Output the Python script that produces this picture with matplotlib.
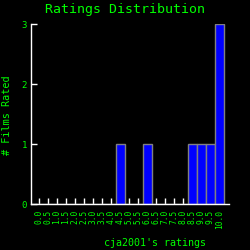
import numpy as np
import matplotlib.pyplot as plt

ratings = ['0.0', '0.5', '1.0', '1.5', '2.0', '2.5', '3.0', '3.5', '4.0', '4.5', '5.0',
           '5.5', '6.0', '6.5', '7.0', '7.5', '8.0', '8.5', '9.0', '9.5', '10.0']
counts = [0, 0, 0, 0, 0, 0, 0, 0, 0, 1, 0, 0, 1, 0, 0, 0, 0, 1, 1, 1, 3]

green = '#00ff00'
font = 'DejaVu Sans Mono'

fig = plt.figure(figsize=(2.5, 2.5), dpi=100, facecolor='black')
ax = fig.add_axes([0.124, 0.184, 0.792, 0.72], facecolor='black')

x = np.arange(len(ratings))
ax.bar(x, counts, width=1.0, color='#0000ff', edgecolor='#808080', linewidth=1)
ax.set_axisbelow(True)

ax.set_xlim(-0.89, 21.1)
ax.set_ylim(0, 3)
ax.set_xticks(x)
ax.set_xticklabels(ratings, rotation=90, fontsize=5.7, family=font, color=green)
ax.set_yticks([0, 1, 2, 3])
ax.set_yticklabels(['0', '1', '2', '3'], fontsize=6.5, family=font, color=green)
ax.tick_params(axis='both', direction='in', length=4, width=1, colors='white', pad=4)
ax.tick_params(axis='x', labelcolor=green)
ax.tick_params(axis='y', labelcolor=green, pad=3)

for s in ['top', 'right']:
    ax.spines[s].set_visible(False)
for s in ['left', 'bottom']:
    ax.spines[s].set_color('white')
    ax.spines[s].set_linewidth(1)

fig.text(0.5, 0.962, 'Ratings Distribution', ha='center', va='center',
         fontsize=9.5, family=font, color=green)
fig.text(0.62, 0.028, "cja2001's ratings", ha='center', va='center',
         fontsize=7.2, family=font, color=green)
fig.text(0.028, 0.54, '# Films Rated', ha='center', va='center', rotation=90,
         fontsize=7.3, family=font, color=green)

fig.savefig('out.png', dpi=100, facecolor='black')
